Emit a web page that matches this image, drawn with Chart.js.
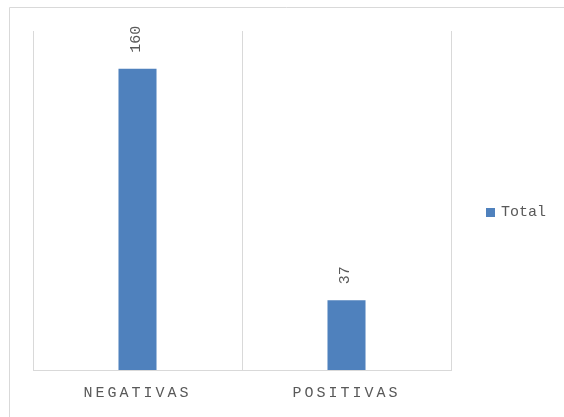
<!DOCTYPE html>
<html>
<head>
<meta charset="utf-8">
<script src="https://cdn.jsdelivr.net/npm/chart.js@4/dist/chart.umd.min.js"></script>
<style>
  html, body { margin: 0; padding: 0; background: #fff; }
  #wrap { width: 564px; height: 417px; position: relative; }
</style>
</head>
<body>
<div id="wrap"><canvas id="chart"></canvas></div>
<script>
const categories = ["NEGATIVAS", "POSITIVAS"];
const seriesName = "Total";
const totals = [160, 37];
const axisMax = 180;

const barColor = "#4f81bd";
const textColor = "#595959";
const lineColor = "#d9d9d9";
const monoFont = "'Liberation Mono', 'DejaVu Sans Mono', monospace";

// outer frame, spaced tick labels, value labels and legend
const decorations = {
    id: "decorations",
    beforeDraw(chart) {
        const ctx = chart.ctx;
        ctx.save();
        ctx.strokeStyle = lineColor;
        ctx.lineWidth = 1;
        ctx.beginPath();
        ctx.moveTo(9.5, chart.height);
        ctx.lineTo(9.5, 7.5);
        ctx.lineTo(chart.width, 7.5);
        ctx.stroke();
        ctx.restore();
        ctx.letterSpacing = "3px";
    },
    beforeDatasetsDraw(chart) {
        chart.ctx.letterSpacing = "0px";
    },
    afterDraw(chart) {
        const ctx = chart.ctx;
        ctx.save();
        ctx.letterSpacing = "0px";
        ctx.fillStyle = textColor;
        ctx.font = "15px " + monoFont;
        const meta = chart.getDatasetMeta(0);
        meta.data.forEach((bar, i) => {
            ctx.save();
            ctx.translate(bar.x - 1, bar.y - 16);
            ctx.rotate(-Math.PI / 2);
            ctx.textAlign = "left";
            ctx.textBaseline = "middle";
            ctx.fillText(String(totals[i]), 0, 0);
            ctx.restore();
        });
        // legend
        const area = chart.chartArea;
        const ly = (area.top + area.bottom) / 2 + 12;
        ctx.fillStyle = barColor;
        ctx.fillRect(486, ly - 4.5, 9, 9);
        ctx.fillStyle = textColor;
        ctx.textAlign = "left";
        ctx.textBaseline = "middle";
        ctx.fillText(seriesName, 501, ly);
        ctx.restore();
    }
};

new Chart(document.getElementById("chart"), {
    type: "bar",
    data: {
        labels: categories,
        datasets: [{
            label: seriesName,
            data: totals,
            backgroundColor: barColor,
            borderWidth: 0,
            barPercentage: 0.182,
            categoryPercentage: 1
        }]
    },
    options: {
        responsive: true,
        maintainAspectRatio: false,
        animation: false,
        layout: { padding: { left: 33, right: 113, top: 31, bottom: 1 } },
        plugins: {
            legend: { display: false },
            tooltip: { enabled: false }
        },
        scales: {
            x: {
                offset: true,
                grid: { offset: true, color: lineColor, lineWidth: 1, drawTicks: false },
                border: { color: lineColor, width: 1 },
                ticks: {
                    color: textColor,
                    font: { family: monoFont, size: 15 },
                    padding: 14,
                    maxRotation: 0,
                    autoSkip: false
                }
            },
            y: {
                display: false,
                min: 0,
                max: axisMax
            }
        }
    },
    plugins: [decorations]
});
</script>
</body>
</html>
